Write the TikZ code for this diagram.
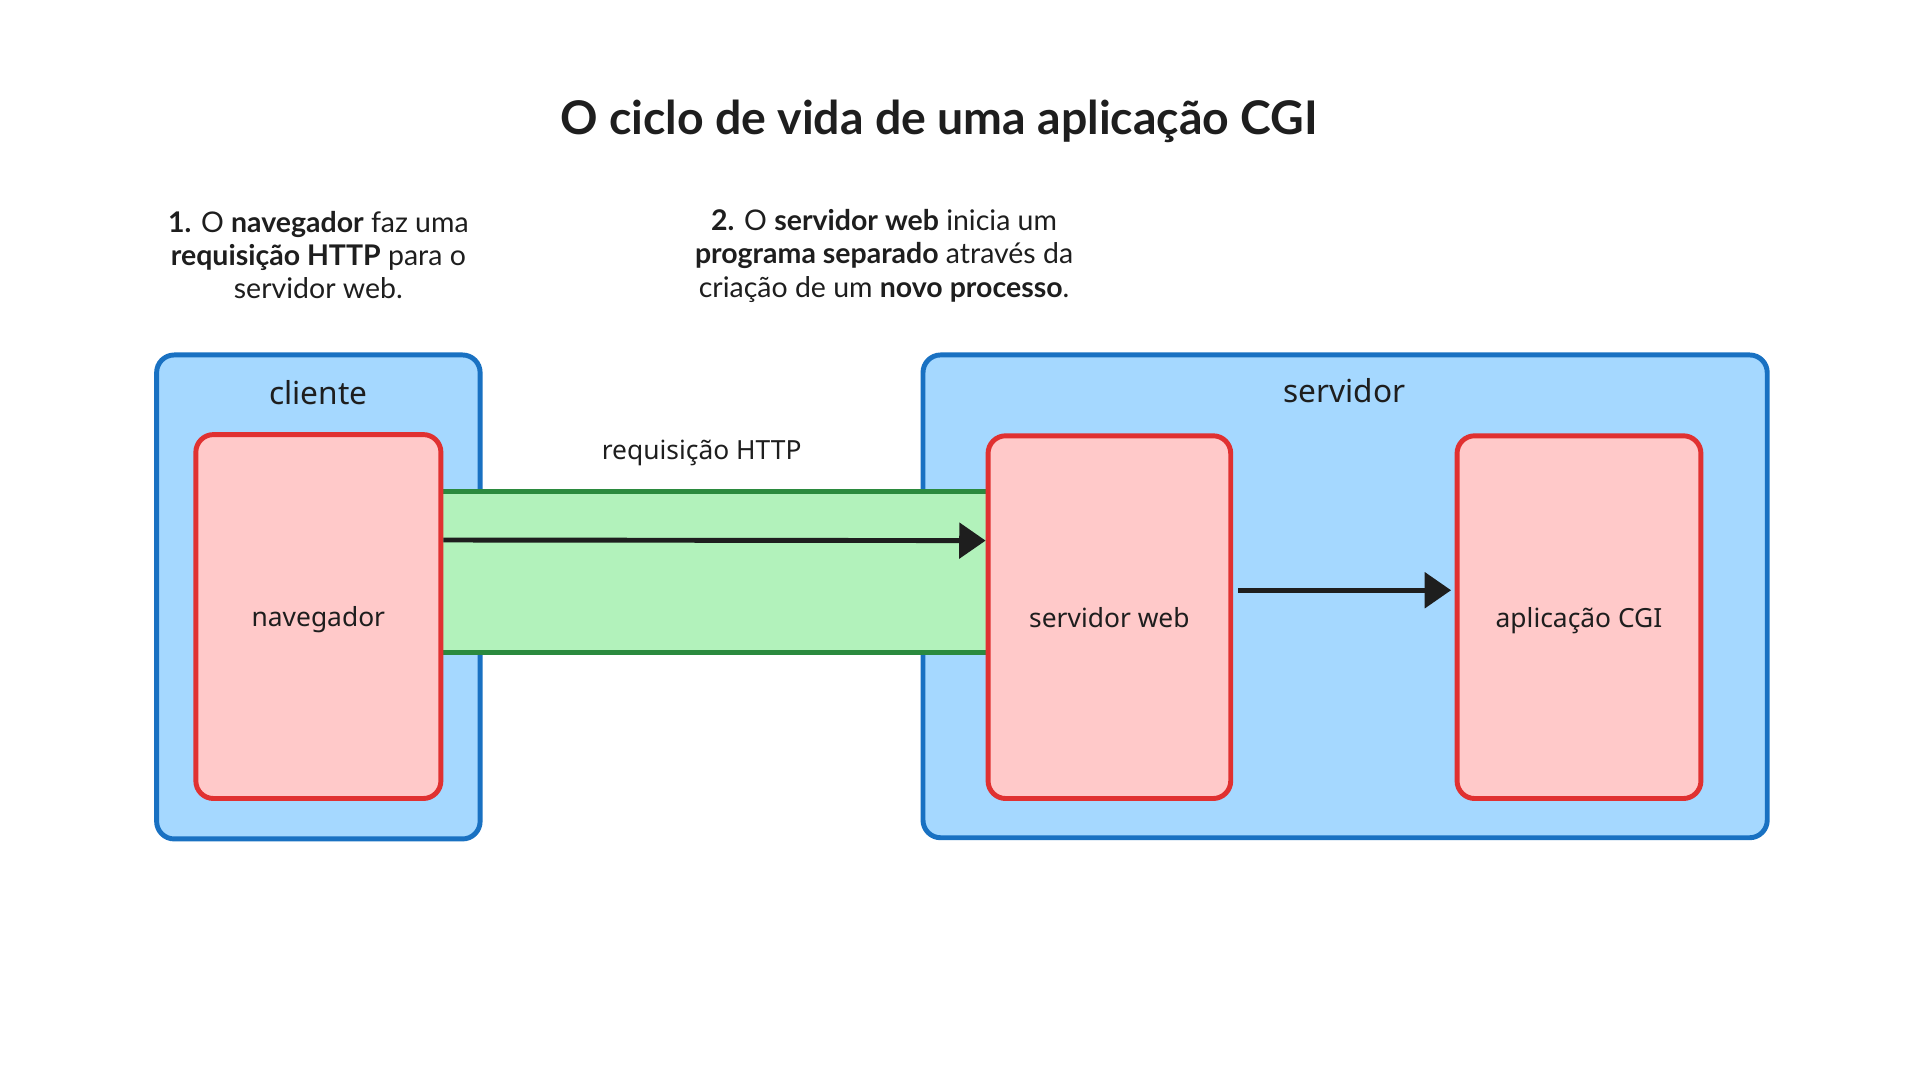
\documentclass[tikz,border=0pt]{standalone}
\usepackage{fontspec}
\setmainfont{Lato}
\newfontfamily\handfont{Noto Sans}
\usetikzlibrary{arrows.meta}

\definecolor{boxblue}{HTML}{A5D8FF}
\definecolor{lineblue}{HTML}{1971C2}
\definecolor{boxred}{HTML}{FFC9C9}
\definecolor{linered}{HTML}{E03131}
\definecolor{boxgreen}{HTML}{B2F2BB}
\definecolor{linegreen}{HTML}{2B8A3E}
\definecolor{ink}{HTML}{1E1E1E}

\tikzset{
  container/.style={draw=lineblue, fill=boxblue, line width=1.4pt, rounded corners=5pt},
  process/.style={draw=linered, fill=boxred, line width=1.4pt, rounded corners=5pt,
    font=\handfont\fontsize{7.5}{9}\selectfont, text=ink},
  boxlabel/.style={font=\handfont\fontsize{9}{11}\selectfont, text=ink},
  steptext/.style={align=center, font=\fontsize{8.1}{9.4}\selectfont, text=ink},
  arr/.style={-{Triangle[length=7.5pt,width=10pt]}, line width=1.4pt, ink}
}

\begin{document}
\begin{tikzpicture}[x=0.012245cm,y=-0.012245cm]
    \useasboundingbox (0,0) rectangle (1568,882);

    % titulo e passos
    \node[font=\bfseries\fontsize{13.2}{16}\selectfont, text=ink] (title) at (767,99) {O ciclo de vida de uma aplicação CGI};
    \node[steptext] (step1) at (260,208) {\textbf{1.} O \textbf{navegador} faz uma\\ \textbf{requisição HTTP} para o\\ servidor web.};
    \node[steptext] (step2) at (722,209) {\textbf{2.} O \textbf{servidor web} inicia um\\ \textbf{programa separado} através da\\ criação de um \textbf{novo processo}.};

    % maquinas
    \node[container, minimum width=3.233cm, minimum height=4.837cm] (cliente) at (260,487.5) {};
    \node[container, minimum width=8.437cm, minimum height=4.825cm] (servidor) at (1098.5,487) {};
    \node[boxlabel] (lblcliente) at (260,321) {cliente};
    \node[boxlabel] (lblservidor) at (1098,319) {servidor};

    % faixa da requisicao
    \coordinate (bandnw) at (358,401);
    \coordinate (bandse) at (807,533);
    \fill[boxgreen] (bandnw) rectangle (bandse);
    \draw[linegreen, line width=1.4pt] (bandnw) -- (bandnw -| bandse);
    \draw[linegreen, line width=1.4pt] (bandnw |- bandse) -- (bandse);
    \node[boxlabel, font=\handfont\fontsize{7.5}{9}\selectfont] (lblreq) at (573,370) {requisição HTTP};

    % processos
    \node[process, minimum width=2.449cm, minimum height=3.637cm, text depth=-4pt] (nav) at (260,503.5) {navegador};
    \node[process, minimum width=2.425cm, minimum height=3.625cm, text depth=-4pt] (web) at (906,504) {servidor web};
    \node[process, minimum width=2.437cm, minimum height=3.625cm, text depth=-4pt] (cgi) at (1289.5,504) {aplicação CGI};

    \draw[arr] ([yshift=0.765cm]nav.east) -- ([yshift=0.765cm]web.west);
    \draw[arr, shorten <=1.5pt, shorten >=1pt] ([yshift=0.269cm]web.east) -- ([yshift=0.269cm]cgi.west);
\end{tikzpicture}
\end{document}
